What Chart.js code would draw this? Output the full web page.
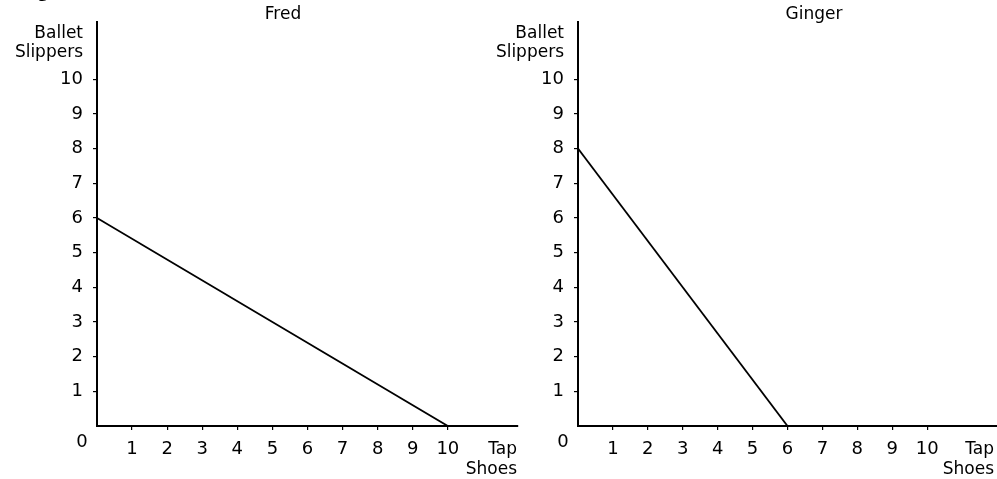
<!DOCTYPE html>
<html>
<head>
<meta charset="utf-8">
<script src="https://cdn.jsdelivr.net/npm/chart.js@4/dist/chart.umd.min.js"></script>
<style>
  body { margin: 0; background: #fff; }
  .box { position: absolute; top: 0; }
</style>
</head>
<body>
<div class="box" style="left:0px"><canvas id="fred" width="520" height="479"></canvas></div>
<div class="box" style="left:480px"><canvas id="ginger" width="517" height="479"></canvas></div>
<script>
// dados de cada grafico
const fredTap = [0, 10];
const fredBallet = [6, 0];
const gingerTap = [0, 6];
const gingerBallet = [8, 0];
const tickValues = [1, 2, 3, 4, 5, 6, 7, 8, 9, 10];
const tickLabels = ['1', '2', '3', '4', '5', '6', '7', '8', '9', '10'];
const xMax = 12;
const yMax = 11.65;

var fonte = "'DejaVu Sans', sans-serif";

function rotulo(v) {
  var i = tickValues.indexOf(v);
  return i >= 0 ? tickLabels[i] : '';
}

function corTick(c) {
  if (c.tick && tickValues.indexOf(c.tick.value) >= 0) return '#000';
  return 'rgba(0,0,0,0)';
}

var textos = {
  id: 'textos',
  afterDraw: function (chart) {
    var ctx = chart.ctx;
    var a = chart.chartArea;
    var o = chart.options.plugins.textos;
    ctx.save();
    ctx.fillStyle = '#000';
    ctx.font = '17px ' + fonte;
    ctx.textAlign = 'center';
    ctx.textBaseline = 'alphabetic';
    ctx.fillText(o.titulo, o.tituloX, 19);

    ctx.textAlign = 'right';
    ctx.fillText('Ballet', a.left - 14, 38);
    ctx.fillText('Slippers', a.left - 14, 57);
    ctx.fillText('Tap', a.right - o.tapDx, 454);
    ctx.fillText('Shoes', a.right - o.tapDx, 474);

    ctx.font = '18px ' + fonte;
    ctx.textAlign = 'center';
    ctx.textBaseline = 'middle';
    ctx.fillText('0', a.left - 15, 442);

    if (o.figura) {
      ctx.font = "bold 20px 'Liberation Serif', serif";
      ctx.textAlign = 'left';
      ctx.textBaseline = 'alphabetic';
      ctx.fillText('Figure', 20, -4);
    }
    ctx.restore();
  }
};

function criarGrafico(id, titulo, tap, ballet, cfg) {
  var pontos = tap.map(function (t, i) { return { x: t, y: ballet[i] }; });
  return new Chart(document.getElementById(id), {
    type: 'scatter',
    data: {
      datasets: [{
        data: pontos,
        showLine: true,
        borderColor: '#000',
        borderWidth: 1.8,
        pointRadius: 0
      }]
    },
    options: {
      responsive: false,
      animation: false,
      layout: { padding: { top: 22, right: cfg.padRight, left: 0, bottom: 0 } },
      plugins: {
        legend: { display: false },
        tooltip: { enabled: false },
        textos: { titulo: titulo, tituloX: cfg.tituloX, tapDx: cfg.tapDx, figura: cfg.figura }
      },
      scales: {
        x: {
          type: 'linear',
          min: 0,
          max: xMax,
          ticks: {
            stepSize: 1,
            autoSkip: false,
            maxRotation: 0,
            padding: 9,
            color: '#000',
            font: { family: fonte, size: 18 },
            callback: rotulo
          },
          grid: { drawOnChartArea: false, tickLength: 4, color: corTick, lineWidth: 1.2 },
          border: { color: '#000', width: 2 },
          afterFit: function (s) { s.height = 53; s.paddingLeft = 0; s.paddingRight = 0; }
        },
        y: {
          type: 'linear',
          min: 0,
          max: yMax,
          ticks: {
            stepSize: 1,
            autoSkip: false,
            padding: 10,
            color: '#000',
            font: { family: fonte, size: 18 },
            callback: rotulo
          },
          grid: { drawOnChartArea: false, tickLength: 4, color: corTick, lineWidth: 1.2 },
          border: { color: '#000', width: 2 },
          afterFit: function (s) { s.width = cfg.eixoY; s.paddingTop = 0; s.paddingBottom = 0; }
        }
      }
    },
    plugins: [textos]
  });
}

criarGrafico('fred', 'Fred', fredTap, fredBallet, { eixoY: 97, padRight: 2, tituloX: 283, tapDx: 1, figura: true });
criarGrafico('ginger', 'Ginger', gingerTap, gingerBallet, { eixoY: 98, padRight: 0, tituloX: 334, tapDx: 3, figura: false });
</script>
</body>
</html>
